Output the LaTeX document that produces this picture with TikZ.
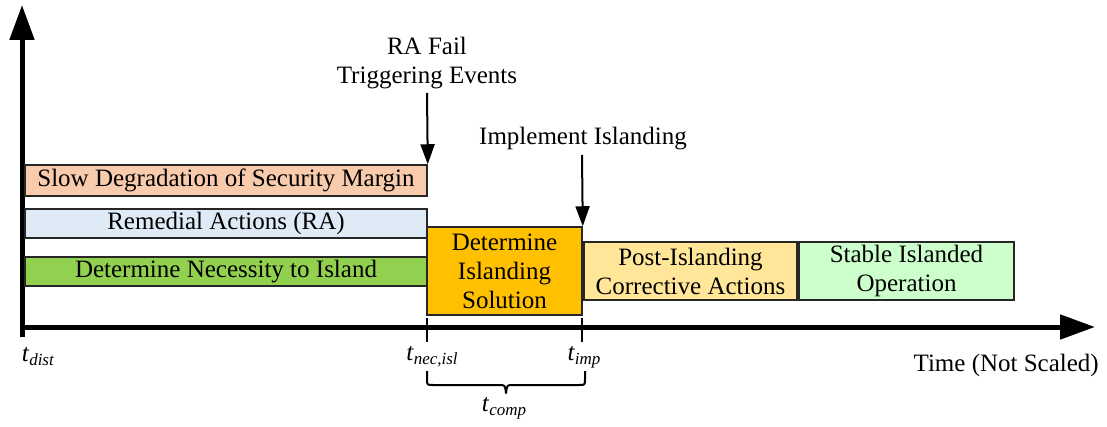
\documentclass[tikz,border=0pt]{standalone}
\usepackage{fontspec}
\setmainfont{Liberation Serif}
\usetikzlibrary{arrows.meta}
\definecolor{cslow}{HTML}{F8CBAD}
\definecolor{crem}{HTML}{DEEBF7}
\definecolor{cnec}{HTML}{92D050}
\definecolor{csol}{HTML}{FFC000}
\definecolor{cpost}{HTML}{FFE699}
\definecolor{cstab}{HTML}{CCFFCC}
\newcommand\tlab[1]{\textit{t}\raisebox{-0.35ex}{\fontsize{17}{20}\selectfont\textit{#1}}}
\begin{document}
\begin{tikzpicture}[x=1pt,y=-1pt,
  every node/.style={font=\fontsize{25}{29}\selectfont, inner sep=0pt},
  bar/.style={draw=black!85, line width=1.5pt, align=center},
  axisline/.style={line width=5pt, -{Triangle[length=35pt,width=24pt]}},
  evarrow/.style={line width=2pt, -{Triangle[length=20pt,width=14pt]}},
  tick/.style={line width=1.2pt},
  lab/.style={align=center}]
\useasboundingbox (0,0) rectangle (1107,427);
% axes
\coordinate (vbot) at (22,337);
\coordinate (vtop) at (22,5);
\coordinate (hleft) at (20,327);
\coordinate (hright) at (1095,327);
\draw[axisline] (vbot) -- (vtop);
\draw[axisline] (hleft) -- (hright);
% bars
\node[bar, fill=cslow, minimum width=402pt, minimum height=31pt] (slow) at (226,180.5) {Slow Degradation of Security Margin};
\node[bar, fill=crem, minimum width=402pt, minimum height=29pt] (rem) at (226,223.5) {Remedial Actions (RA)};
\node[bar, fill=cnec, minimum width=402pt, minimum height=29pt] (nec) at (226,271.5) {Determine Necessity to Island};
\node[bar, fill=csol, minimum width=155pt, minimum height=88pt] (sol) at (504.5,271) {Determine\\Islanding\\Solution};
\node[bar, fill=cpost, minimum width=213pt, minimum height=58pt] (post) at (690.5,271) {Post-Islanding\\Corrective Actions};
\node[bar, fill=cstab, minimum width=215pt, minimum height=58pt] (stab) at (906.5,271) {Stable Islanded\\Operation};
% event arrows
\node[lab] (rafail) at (427,63) {RA Fail\\Triggering Events};
\node[lab] (impl) at (583,139) {Implement Islanding};
\coordinate (raA) at (427,93);
\coordinate (imA) at (582,155);
\draw[evarrow] (raA) -- (slow.north east);
\draw[evarrow] (imA) -- (sol.north east);
% ticks
\coordinate (t1a) at (427,318);
\coordinate (t1b) at (427,342);
\coordinate (t2a) at (582,318);
\coordinate (t2b) at (582,342);
\draw[tick] (t1a) -- (t1b);
\draw[tick] (t2a) -- (t2b);
% time labels
\node (tdist) at (38,357) {\tlab{dist}};
\node (tnec) at (432,357) {\tlab{nec,isl}};
\node (timp) at (584,357) {\tlab{imp}};
\node[anchor=east] (timelab) at (1099,365) {Time (Not Scaled)};
% brace
\coordinate (bl) at (427,371);
\coordinate (br) at (585,371);
\coordinate (bm) at (506,393);
\draw[line width=2pt, line join=round] (bl) -- (427,379) .. controls (427,385) .. (433,385) -- (499,385) .. controls (505,385) .. (bm) .. controls (507,385) .. (513,385) -- (579,385) .. controls (585,385) .. (585,379) -- (br);
\node (tcomp) at (504,408) {\tlab{comp}};
\end{tikzpicture}
\end{document}
